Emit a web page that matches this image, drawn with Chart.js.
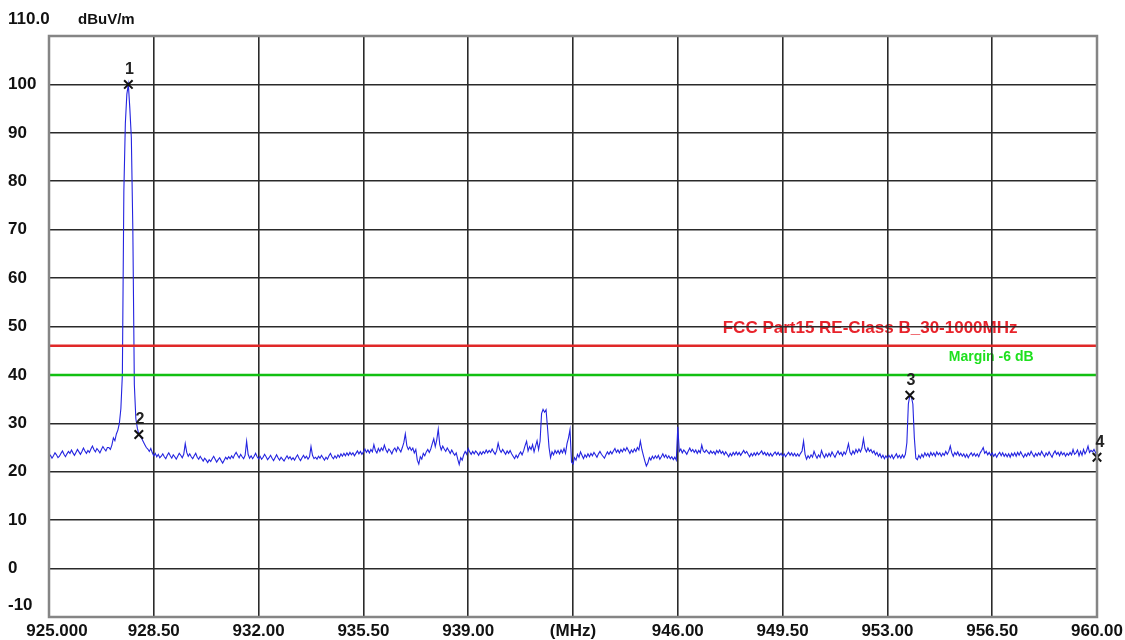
<!DOCTYPE html>
<html>
<head>
<meta charset="utf-8">
<script src="https://cdn.jsdelivr.net/npm/chart.js@4.4.0/dist/chart.umd.min.js"></script>
<style>
    html, body { margin: 0; background: #fff; }
    canvas { display: block; }
</style>
</head>
<body>
<canvas id="myChart" width="1125" height="640"></canvas>
<script>
// sweep: 925 - 960 MHz, one reading every 50 kHz
const startMHz = 925.0;
const stepMHz = 0.05;
const levelDb = [
    23.0, 23.4, 22.8, 23.3, 23.9, 23.5, 22.9, 23.2, 23.8, 24.3, 23.6, 23.1, 23.7, 24.2, 23.8, 24.5, 23.9, 23.4, 24.0, 24.6, // 925
    24.1, 23.6, 24.2, 24.9, 24.3, 23.8, 24.4, 24.0, 24.7, 25.3, 24.6, 24.1, 24.8, 24.4, 23.9, 24.6, 25.2, 24.7, 24.3, 25.0, // 926
    25.0, 24.6, 25.5, 27.0, 26.4, 27.8, 28.6, 30.0, 33.0, 40.0, 78.0, 92.0, 98.0, 100.0, 95.0, 89.0, 70.0, 38.0, 31.0, 29.0, // 927
    27.7, 27.3, 26.8, 26.2, 25.6, 25.0, 24.7, 24.2, 24.8, 23.9, 23.3, 23.8, 23.1, 23.6, 22.9, 23.2, 23.7, 23.1, 22.7, 23.4, // 928
    23.9, 23.3, 22.8, 23.5, 23.1, 22.6, 23.2, 23.8, 23.4, 22.9, 23.6, 25.8, 24.0, 23.2, 23.7, 23.1, 22.7, 23.3, 23.8, 23.0, // 929
    22.6, 23.2, 22.7, 22.2, 22.8, 22.4, 21.9, 22.5, 22.1, 22.7, 23.2, 22.6, 22.0, 22.5, 22.9, 22.3, 21.8, 22.4, 23.0, 22.6, // 930
    23.1, 22.7, 23.3, 22.8, 23.5, 24.0, 23.4, 22.9, 23.6, 23.1, 22.7, 23.4, 26.3, 23.6, 22.8, 23.3, 22.7, 23.2, 23.8, 23.1, // 931
    22.7, 23.2, 22.6, 23.0, 23.6, 23.1, 22.5, 22.9, 23.4, 22.8, 22.3, 22.9, 23.5, 22.9, 22.4, 23.0, 22.6, 22.2, 22.8, 23.3, // 932
    22.7, 23.1, 22.5, 22.9, 22.4, 23.0, 23.5, 22.8, 22.3, 22.9, 23.4, 22.8, 23.2, 22.6, 23.1, 25.2, 23.4, 22.7, 23.0, 22.6, // 933
    23.2, 22.8, 23.4, 22.9, 22.4, 23.0, 22.6, 23.3, 23.8, 23.1, 22.7, 23.3, 22.8, 23.5, 23.0, 23.7, 23.2, 23.8, 23.3, 23.9, // 934
    23.4, 24.0, 23.5, 23.9, 23.3, 23.8, 24.3, 23.7, 24.2, 23.6, 24.1, 24.7, 24.0, 24.5, 23.9, 24.6, 24.1, 25.6, 24.4, 23.9, // 935
    24.8, 24.2, 24.9, 24.4, 25.5, 24.6, 24.0, 24.7, 24.3, 23.7, 24.5, 24.9, 24.2, 25.1, 24.6, 24.1, 25.0, 26.0, 27.8, 25.4, // 936
    24.6, 25.1, 24.4, 24.9, 23.9, 24.6, 22.4, 21.6, 23.1, 22.6, 23.8, 23.3, 24.1, 24.6, 24.0, 24.7, 25.8, 26.8, 25.2, 26.6, // 937
    28.8, 25.6, 24.5, 25.3, 24.7, 24.2, 24.9, 24.4, 23.8, 24.5, 23.9, 23.4, 23.9, 22.6, 21.5, 22.9, 22.4, 23.5, 24.2, 23.6, // 938
    24.8, 24.1, 23.6, 24.2, 23.7, 24.3, 23.9, 23.4, 24.1, 23.6, 24.2, 23.8, 24.5, 23.9, 24.4, 24.0, 24.7, 24.1, 23.6, 24.3, // 939
    25.9, 24.6, 24.0, 24.6, 24.1, 23.6, 24.3, 23.8, 24.4, 23.7, 23.2, 22.7, 23.4, 22.9, 23.6, 24.1, 23.5, 24.3, 25.4, 26.3, // 940
    24.3, 25.2, 24.6, 25.6, 24.1, 25.3, 26.4, 24.6, 26.3, 32.0, 32.9, 32.3, 32.8, 29.0, 25.0, 22.9, 24.1, 23.5, 24.4, 23.8, // 941
    24.4, 23.7, 24.5, 23.9, 24.8, 23.8, 25.8, 27.0, 28.7, 22.0, 21.6, 22.9, 22.4, 23.6, 23.0, 24.1, 23.4, 22.7, 23.5, 23.0, // 942
    23.7, 23.1, 23.8, 23.3, 24.0, 23.5, 23.0, 23.7, 24.2, 23.6, 23.2, 22.8, 23.5, 24.1, 23.6, 24.2, 23.7, 24.3, 24.8, 24.0, // 943
    24.5, 23.9, 24.6, 24.1, 24.8, 24.3, 25.0, 24.4, 23.8, 24.5, 24.0, 24.7, 24.2, 25.0, 24.5, 26.3, 24.6, 23.4, 22.2, 21.2, // 944
    21.8, 22.9, 22.4, 23.2, 22.7, 23.3, 22.8, 23.4, 22.6, 23.1, 23.7, 23.0, 23.5, 22.8, 23.3, 22.7, 23.1, 22.5, 23.0, 22.4, // 945
    29.3, 24.2, 24.7, 23.9, 24.5, 24.1, 23.6, 24.3, 24.9, 24.2, 24.6, 24.0, 24.5, 23.8, 24.4, 23.9, 25.5, 24.3, 24.0, 24.5, // 946
    24.1, 23.7, 24.3, 23.8, 24.2, 23.6, 24.4, 23.9, 24.5, 23.8, 24.2, 23.5, 24.1, 23.6, 23.1, 23.8, 23.3, 24.0, 23.5, 24.1, // 947
    23.5, 24.0, 23.4, 23.9, 24.4, 23.8, 24.2, 23.6, 23.1, 23.8, 23.3, 23.9, 23.4, 24.0, 23.5, 23.9, 24.3, 23.6, 24.0, 23.4, // 948
    23.9, 23.3, 23.8, 23.2, 23.7, 24.1, 23.5, 24.0, 23.4, 23.8, 23.2, 23.7, 23.1, 23.6, 24.0, 23.4, 23.9, 23.3, 23.8, 23.2, // 949
    23.7, 23.2, 23.8, 24.3, 26.3, 23.6, 22.6, 23.3, 22.8, 23.5, 23.0, 24.2, 23.4, 22.8, 23.5, 23.0, 24.4, 23.5, 22.9, 23.7, // 950
    23.1, 23.8, 23.2, 24.1, 23.5, 23.0, 23.7, 24.3, 23.6, 24.0, 23.3, 24.1, 23.6, 24.5, 25.8, 24.0, 23.5, 24.3, 23.7, 24.6, // 951
    24.0, 24.7, 24.1, 24.9, 26.8, 24.8, 24.1, 24.9, 24.2, 24.6, 23.9, 24.3, 23.5, 24.0, 23.2, 23.7, 22.9, 23.4, 22.7, 23.3, // 952
    22.8, 23.4, 22.9, 23.5, 22.7, 23.2, 23.7, 22.9, 23.4, 22.8, 23.5, 22.9, 23.6, 26.0, 34.0, 35.8, 35.5, 34.0, 27.0, 22.8, // 953
    22.5, 23.4, 22.8, 23.6, 23.0, 23.9, 23.3, 23.8, 23.1, 24.0, 23.4, 23.9, 23.2, 24.1, 23.5, 23.9, 23.2, 23.8, 23.4, 24.2, // 954
    23.6, 24.2, 25.3, 23.9, 23.2, 24.0, 23.5, 24.1, 23.3, 23.8, 23.2, 23.7, 23.0, 23.6, 22.9, 23.5, 23.9, 23.3, 23.8, 23.2, // 955
    23.7, 23.1, 23.9, 24.4, 25.0, 23.8, 24.2, 23.5, 24.0, 23.4, 23.9, 23.2, 23.7, 23.0, 23.6, 24.0, 23.3, 23.9, 23.2, 23.7, // 956
    23.1, 23.7, 23.0, 23.8, 23.3, 23.9, 23.2, 24.0, 23.4, 24.1, 23.5, 23.0, 23.7, 23.2, 23.9, 23.4, 24.2, 23.6, 23.1, 23.8, // 957
    23.3, 23.9, 23.4, 24.2, 23.6, 23.1, 23.9, 23.4, 24.1, 23.5, 23.0, 23.8, 24.3, 23.6, 24.0, 23.3, 24.1, 23.5, 23.9, 23.2, // 958
    23.8, 23.4, 24.0, 23.5, 24.6, 23.6, 23.9, 24.5, 23.3, 24.2, 23.4, 24.6, 23.7, 24.3, 25.3, 24.0, 24.4, 24.1, 24.6, 24.0, // 959
    23.0 // 960
];

const limitDb = 46.0;
const marginDb = 40.0;
const limitName = 'FCC Part15 RE-Class B_30-1000MHz';
const marginName = 'Margin -6 dB';

const markerNames = ['1', '2', '3', '4'];
const markerMHz = [927.65, 928.00, 953.75, 960.00];
const markerDb = [100.0, 27.7, 35.8, 23.0];

const xTicks = [925, 928.5, 932, 935.5, 939, 942.5, 946, 949.5, 953, 956.5, 960];
const xTickLabels = ['925.000', '928.50', '932.00', '935.50', '939.00', '(MHz)', '946.00', '949.50', '953.00', '956.50', '960.00'];
const yTicks = [110, 100, 90, 80, 70, 60, 50, 40, 30, 20, 10, 0, -10];
const yTickLabels = ['110.0', '100', '90', '80', '70', '60', '50', '40', '30', '20', '10', '0', '-10'];
const yUnit = 'dBuV/m';

const FONT = '"Liberation Sans", Arial, sans-serif';

function buildTrace(){
    let pts = [];
    for(let i = 0; i < levelDb.length; i++){
        pts.push({x: +(startMHz + i * stepMHz).toFixed(2), y: levelDb[i]});
    }
    return pts;
}

function flatLine(level){
    return [{x: xTicks[0], y: level}, {x: xTicks[xTicks.length - 1], y: level}];
}

// limit captions go under the grid, axis text and marker numbers on top
const textPlugin = {
    id: 'textPlugin',
    beforeDraw(chart){
        const c = chart.ctx, x = chart.scales.x, y = chart.scales.y;
        c.save();
        c.textBaseline = 'middle';
        c.font = 'bold 17px ' + FONT;
        c.fillStyle = '#e8232b';
        c.fillText(limitName, x.getPixelForValue(947.5), y.getPixelForValue(limitDb) - 18);
        c.font = 'bold 14px ' + FONT;
        c.fillStyle = '#1ee01e';
        c.fillText(marginName, x.getPixelForValue(955.05), y.getPixelForValue(marginDb) - 18);
        c.restore();
    },
    afterDraw(chart){
        const c = chart.ctx, a = chart.chartArea, x = chart.scales.x, y = chart.scales.y;
        c.save();
        // outer frame
        c.strokeStyle = '#858585';
        c.lineWidth = 2.5;
        c.strokeRect(a.left, a.top, a.right - a.left, a.bottom - a.top);

        c.fillStyle = '#111';
        c.font = 'bold 17px ' + FONT;
        c.textBaseline = 'middle';
        c.textAlign = 'left';
        yTicks.forEach((v, i) => {
            let py = y.getPixelForValue(v);
            if (i === 0) py -= 17;
            if (i === yTicks.length - 1) py -= 12;
            c.fillText(yTickLabels[i], 8, py);
        });
        c.font = 'bold 15px ' + FONT;
        c.fillText(yUnit, 78, a.top - 16);

        c.font = 'bold 17px ' + FONT;
        c.textAlign = 'center';
        xTicks.forEach((v, i) => {
            let px = x.getPixelForValue(v);
            if (i === 0) px += 8;
            c.fillText(xTickLabels[i], px, a.bottom + 14);
        });

        // marker numbers above the crosses
        const pts = chart.getDatasetMeta(0).data;
        c.font = 'bold 16px ' + FONT;
        c.fillStyle = '#222';
        pts.forEach((p, i) => {
            let dx = (i === pts.length - 1) ? 3 : 1;
            c.fillText(markerNames[i], p.x + dx, p.y - 15);
        });
        c.restore();
    }
};

document.addEventListener('DOMContentLoaded', e => {
    let ctx = document.getElementById('myChart').getContext('2d');

    new Chart(ctx, {
        type: 'line',
        data: {
            datasets: [
                {
                    label: 'markers',
                    type: 'scatter',
                    data: markerMHz.map((f, i) => ({x: f, y: markerDb[i]})),
                    pointStyle: 'crossRot',
                    pointRadius: 6,
                    borderColor: '#111',
                    borderWidth: 2,
                    clip: false,
                    order: 0
                },
                {
                    label: 'limit',
                    data: flatLine(limitDb),
                    borderColor: '#e02828',
                    borderWidth: 2.5,
                    pointRadius: 0,
                    order: 1
                },
                {
                    label: 'margin',
                    data: flatLine(marginDb),
                    borderColor: '#12c012',
                    borderWidth: 2.5,
                    pointRadius: 0,
                    order: 1
                },
                {
                    label: 'trace',
                    data: buildTrace(),
                    borderColor: '#2424e0',
                    borderWidth: 1.1,
                    pointRadius: 0,
                    tension: 0,
                    order: 2
                }
            ]
        },
        options: {
            responsive: false,
            animation: false,
            events: [],
            layout: {padding: {left: 49, top: 36, right: 28, bottom: 23}},
            plugins: {legend: {display: false}, tooltip: {enabled: false}},
            scales: {
                x: {
                    type: 'linear',
                    min: 925,
                    max: 960,
                    ticks: {display: false, stepSize: 3.5},
                    grid: {color: '#2a2a2a', lineWidth: 1.6, drawTicks: false},
                    border: {display: false}
                },
                y: {
                    min: -10,
                    max: 110,
                    ticks: {display: false, stepSize: 10},
                    grid: {color: '#2a2a2a', lineWidth: 1.6, drawTicks: false},
                    border: {display: false}
                }
            }
        },
        plugins: [textPlugin]
    });
});
</script>
</body>
</html>
